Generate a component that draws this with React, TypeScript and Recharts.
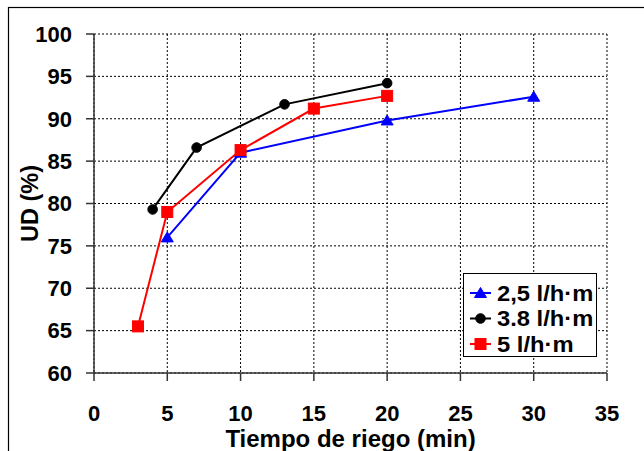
import React from 'react';
import { LineChart, Line, XAxis, YAxis, CartesianGrid, Customized } from 'recharts';

const seriesNames = ['2,5 l/h·m', '3.8 l/h·m', '5 l/h·m'];
const seriesColors = ['#0000FF', '#000000', '#FF0000'];

const blueX = [5, 10, 20, 30];
const blueY = [76.0, 86.0, 89.8, 92.6];
const blackX = [4, 7, 13, 20];
const blackY = [79.3, 86.6, 91.7, 94.2];
const redX = [3, 5, 10, 15, 20];
const redY = [65.5, 79.0, 86.3, 91.2, 92.7];

const xTicks = [0, 5, 10, 15, 20, 25, 30, 35];
const yTicks = [60, 65, 70, 75, 80, 85, 90, 95, 100];

const toData = (xs: number[], ys: number[]) => xs.map((x, i) => ({ x, y: ys[i] }));
const blueData = toData(blueX, blueY);
const blackData = toData(blackX, blackY);
const redData = toData(redX, redY);

const FONT = '"Liberation Sans", Arial, sans-serif';

const Marker = ({ kind, cx, cy, color }: { kind: number; cx: number; cy: number; color: string }) => {
  if (cx == null || cy == null) return null;
  if (kind === 0) {
    return <polygon points={`${cx},${cy - 5.5} ${cx - 6},${cy + 4.5} ${cx + 6},${cy + 4.5}`} fill={color} stroke={color} strokeWidth={1} />;
  }
  if (kind === 1) {
    return <circle cx={cx} cy={cy} r={4.8} fill={color} stroke={color} strokeWidth={1} />;
  }
  return <rect x={cx - 5.5} y={cy - 5.5} width={11} height={11} fill={color} stroke={color} strokeWidth={1} />;
};

const dotFor = (kind: number, color: string) => (props: any) => (
  <Marker key={`${kind}-${props.index}`} kind={kind} cx={props.cx} cy={props.cy} color={color} />
);

const OuterBorder = () => (
  <rect x={8.5} y={7.5} width={700} height={500} fill="none" stroke="#000" strokeWidth={1.2} />
);

const LegendBox = () => {
  const bx = 463;
  const by = 273;
  const rows = [293, 318.5, 344];
  return (
    <g>
      <rect x={bx + 0.5} y={by + 0.5} width={133} height={83} fill="#fff" stroke="#000" strokeWidth={1} />
      {seriesNames.map((name, i) => (
        <g key={name}>
          <line x1={470} x2={491} y1={rows[i]} y2={rows[i]} stroke={seriesColors[i]} strokeWidth={2} />
          <Marker kind={i} cx={480.5} cy={rows[i]} color={seriesColors[i]} />
          <text x={0} y={0} dy="0.36em" transform={`translate(497, ${rows[i]}) scale(1.08, 1)`}
            fontFamily={FONT} fontWeight="bold" fontSize={22} fill="#000">
            {name}
          </text>
        </g>
      ))}
    </g>
  );
};

const YLabel = (props: any) => {
  const vb = props.viewBox || { y: 34, height: 339 };
  const cx = 30;
  const cy = vb.y + vb.height / 2;
  return (
    <text x={cx} y={cy} transform={`rotate(-90, ${cx}, ${cy})`} textAnchor="middle" dy="0.36em"
      fontFamily={FONT} fontWeight="bold" fontSize={23.5} fill="#000">
      UD (%)
    </text>
  );
};

export default function App() {
  return (
    <div style={{ position: 'absolute', left: 0, top: 0, width: 644, height: 451, overflow: 'hidden', background: '#fff' }}>
      <LineChart width={644} height={451} margin={{ top: 34, right: 37, bottom: 0, left: 0 }}>
        <Customized component={OuterBorder} />
        <CartesianGrid stroke="#000" strokeDasharray="2 2" strokeWidth={1} />
        <XAxis
          type="number"
          dataKey="x"
          domain={[0, 35]}
          ticks={xTicks}
          allowDataOverflow
          height={78}
          tickSize={8}
          tickMargin={24}
          stroke="#333"
          strokeWidth={1.5}
          tick={{ fill: '#000', fontFamily: FONT, fontWeight: 'bold', fontSize: 22 }}
          label={{ value: 'Tiempo de riego (min)', position: 'insideBottom', offset: 4, fill: '#000', fontFamily: FONT, fontWeight: 'bold', fontSize: 24 }}
        />
        <YAxis
          type="number"
          dataKey="y"
          domain={[60, 100]}
          ticks={yTicks}
          allowDataOverflow
          width={94}
          tickSize={8}
          tickMargin={14}
          stroke="#333"
          strokeWidth={1.5}
          tick={{ fill: '#000', fontFamily: FONT, fontWeight: 'bold', fontSize: 22 }}
          label={<YLabel />}
        />
        <Line data={blueData} dataKey="y" name={seriesNames[0]} stroke={seriesColors[0]} strokeWidth={2}
          dot={dotFor(0, seriesColors[0])} activeDot={false} isAnimationActive={false} />
        <Line data={blackData} dataKey="y" name={seriesNames[1]} stroke={seriesColors[1]} strokeWidth={2}
          dot={dotFor(1, seriesColors[1])} activeDot={false} isAnimationActive={false} />
        <Line data={redData} dataKey="y" name={seriesNames[2]} stroke={seriesColors[2]} strokeWidth={2}
          dot={dotFor(2, seriesColors[2])} activeDot={false} isAnimationActive={false} />
        <Customized component={LegendBox} />
      </LineChart>
    </div>
  );
}
